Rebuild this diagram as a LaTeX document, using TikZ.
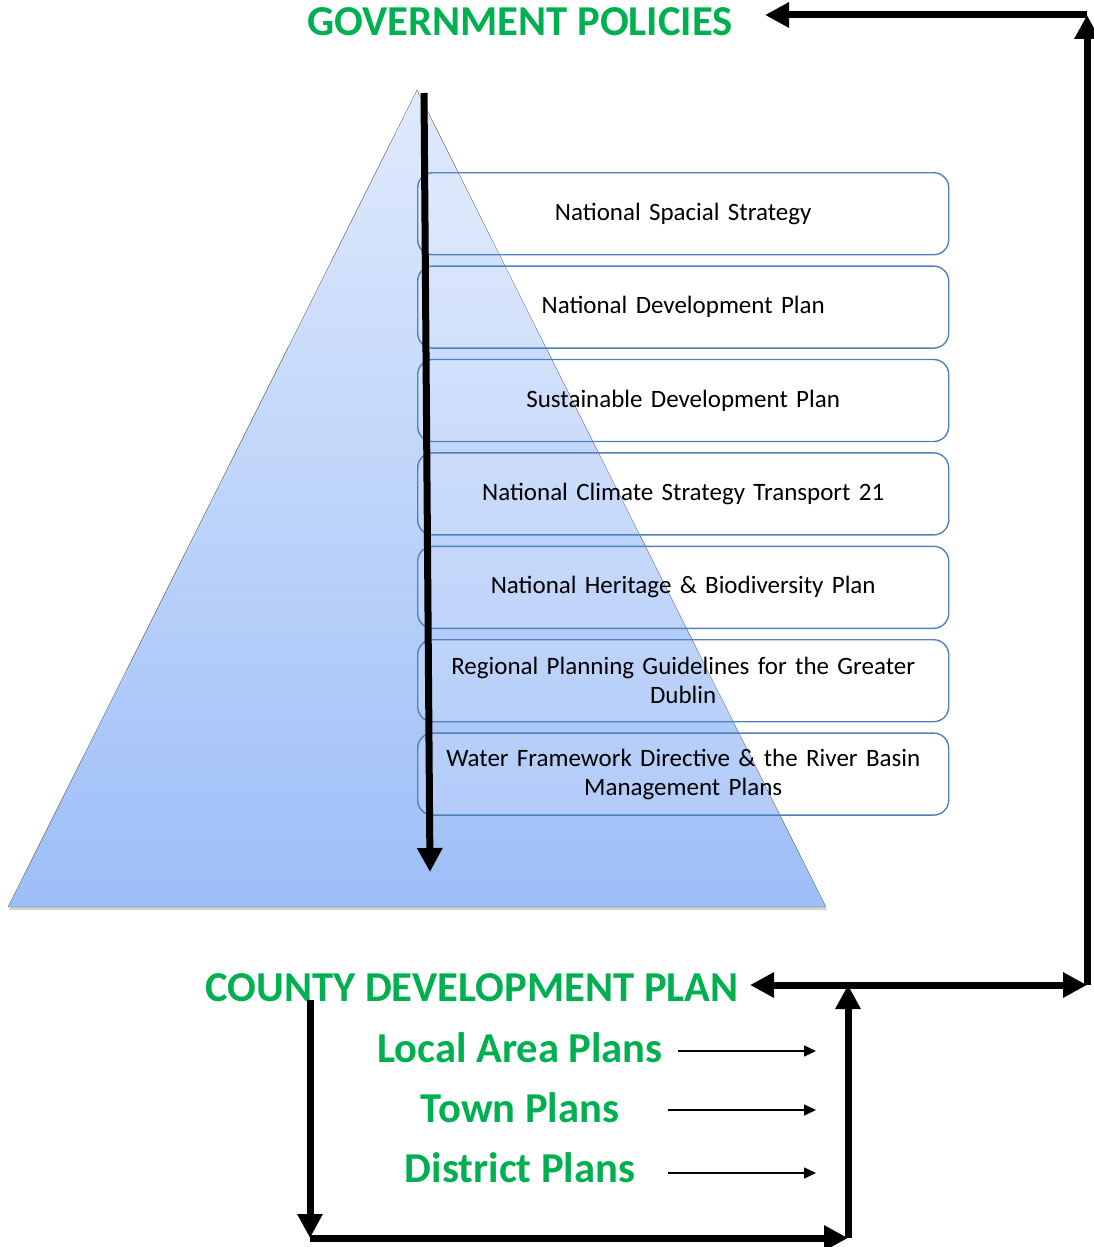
\documentclass[tikz,border=0pt]{standalone}
\usepackage{fontspec}
\setmainfont{Carlito}
\usetikzlibrary{arrows.meta,shadows,positioning}
\definecolor{headgreen}{HTML}{00B050}
\definecolor{boxblue}{HTML}{4F81BD}
\definecolor{pyrtop}{HTML}{E0EAFC}
\definecolor{pyrbot}{HTML}{9DBEF8}
\newcommand{\amp}{\char38\relax}
\begin{document}
\begin{tikzpicture}[x=1pt,y=-1pt,
   every matrix/.style={ampersand replacement=\&,row sep=10pt,inner sep=0pt,outer sep=0pt},
   plan/.style={draw=boxblue,line width=1.4pt,rounded corners=15pt,fill=white,fill opacity=0.15,text opacity=1,
      minimum width=531pt,minimum height=82pt,text width=510pt,align=center,inner sep=0pt,outer sep=0pt,
      font=\fontsize{25}{29}\selectfont},
   head/.style={text=headgreen,inner sep=0pt,font=\fontsize{42.6}{48}\selectfont\bfseries},
   flow/.style={-{Triangle[length=24pt,width=24pt]},line width=7pt},
   thin/.style={-{Triangle[length=12pt,width=11pt]},line width=1.5pt}]
\useasboundingbox (0,0) rectangle (1094,1247);
% pyramid
\coordinate (peak) at (417,90);
\coordinate (base r) at (826,907);
\coordinate (base l) at (8,907);
\path[draw=gray!70!black,top color=pyrtop,bottom color=pyrbot,
   drop shadow={opacity=0.35,shadow xshift=1pt,shadow yshift=-3pt}]
   (peak) -- (base r) -- (base l) -- cycle;
% plans
\matrix[anchor=north west] (plans) at (417,172) {
\node[plan] (nss) {National Spacial Strategy};\\
\node[plan] (ndp) {National Development Plan};\\
\node[plan] (sdp) {Sustainable Development Plan};\\
\node[plan] (ncs) {National Climate Strategy Transport 21};\\
\node[plan] (nhb) {National Heritage \amp{} Biodiversity Plan};\\
\node[plan] (rpg) {Regional Planning Guidelines for the Greater\\Dublin};\\
\node[plan] (wfd) {Water Framework Directive \amp{} the River Basin\\Management Plans};\\
};
\coordinate (top in) at (424,93);
\coordinate (bottom out) at (430,872);
\draw[flow] (top in) -- (bottom out);
% headings
\node[head] (gov) at (520,22) {GOVERNMENT POLICIES};
\node[head] (county) at (472,988) {COUNTY DEVELOPMENT PLAN};
\node[head] (local) at (520,1048) {Local Area Plans};
\node[head] (town) at (520,1108) {Town Plans};
\node[head] (district) at (520,1168) {District Plans};
% loops
\coordinate (joint) at (848,985);
\coordinate (corner br) at (1087,985);
\coordinate (corner tr) at (1087,15);
\coordinate (gov in) at (765,15);
\coordinate (county in) at (750,985);
\coordinate (county out) at (310,1000);
\coordinate (corner bl) at (310,1238);
\coordinate (corner bm) at (848,1238);
\draw[flow] (joint) -- (county in);
\draw[flow] (joint) -- (corner br);
\draw[flow] (corner br) -- (corner tr);
\draw[flow] (corner tr) -- (gov in);
\draw[flow] (county out) -- (corner bl);
\draw[flow] (corner bl) -- (corner bm);
\draw[flow] (corner bm) -- (joint);
\draw[thin] (678,1051) -- (816,1051);
\draw[thin] (668,1110) -- (816,1110);
\draw[thin] (668,1173) -- (816,1173);
\end{tikzpicture}
\end{document}
